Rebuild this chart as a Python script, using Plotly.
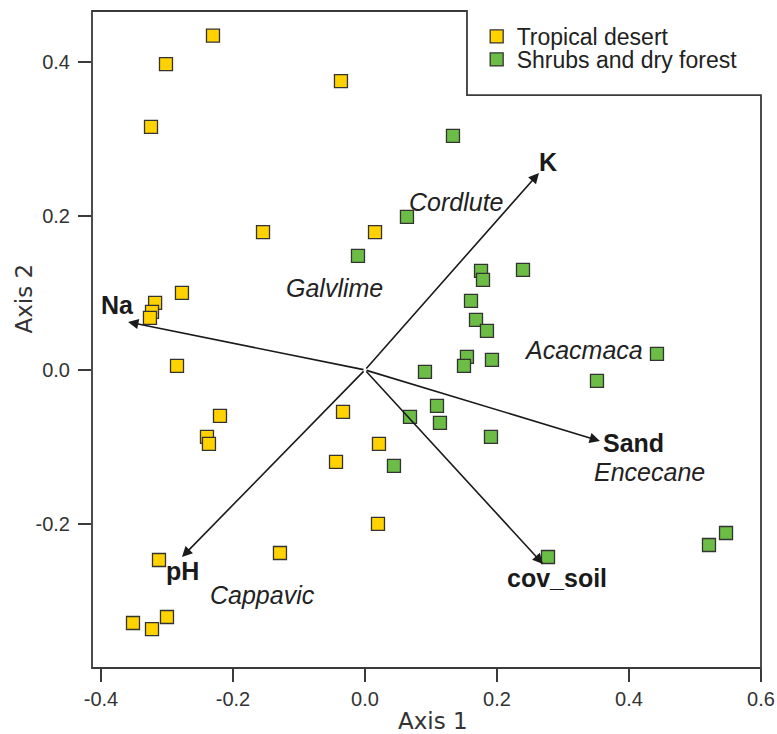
import plotly.graph_objects as go

# ---- data ----
desert_x = [-0.2303, -0.3015, -0.3242, -0.0364, -0.1545, 0.0152, -0.2773, -0.318, -0.3227, -0.3258,
            -0.2848, -0.2197, -0.2394, -0.2364, -0.3121, -0.1288, -0.3515, -0.3227, -0.300,
            -0.0333, 0.0212, -0.0439, 0.0197]
desert_y = [0.434, 0.397, 0.3156, 0.375, 0.179, 0.179, 0.100, 0.087, 0.0753, 0.0675,
            0.0052, -0.0597, -0.087, -0.096, -0.2468, -0.2377, -0.3286, -0.3364, -0.3208,
            -0.0545, -0.096, -0.1195, -0.200]

forest_x = [0.1333, 0.0636, -0.0106, 0.1758, 0.1788, 0.2394, 0.1606, 0.1682, 0.1848, 0.1545,
            0.150, 0.1924, 0.0909, 0.3515, 0.4424, 0.1091, 0.0682, 0.1136, 0.1909, 0.0439,
            0.2773, 0.5212, 0.547]
forest_y = [0.3039, 0.1987, 0.148, 0.1286, 0.1169, 0.1299, 0.0896, 0.0649, 0.0506, 0.0169,
            0.0052, 0.013, -0.0026, -0.0143, 0.0208, -0.0468, -0.061, -0.0688, -0.087, -0.1247,
            -0.2429, -0.2273, -0.2117]

vec_names = ["K", "Na", "Sand", "pH", "cov_soil"]
vec_x = [0.2636, -0.359, 0.356, -0.2773, 0.2697]
vec_y = [0.2558, 0.0623, -0.0922, -0.2429, -0.252]

species_names = ["Cordlute", "Galvlime", "Acacmaca", "Encecane", "Cappavic"]
species_x = [0.1394, -0.0455, 0.3318, 0.4318, -0.156]
species_y = [0.2182, 0.1065, 0.026, -0.1325, -0.2922]

x_ticks = [-0.4, -0.2, 0.0, 0.2, 0.4, 0.6]
y_ticks = [-0.2, 0.0, 0.2, 0.4]

# ---- styling ----
FONT = "Liberation Sans, Arial, sans-serif"
TITLE_FONT = "DejaVu Sans, sans-serif"
YELLOW = "#FFD200"
GREEN = "#6BBD45"
EDGE = "#333333"
label_shift = {"K": (9, 11), "Na": (-11, 17), "Sand": (34, -2), "pH": (1, -14), "cov_soil": (14, -14)}

fig = go.Figure()
fig.add_trace(go.Scatter(x=desert_x, y=desert_y, mode="markers", name="Tropical desert",
                         legend="legend",
                         marker=dict(symbol="square", size=13, color=YELLOW,
                                     line=dict(color=EDGE, width=1.3))))
fig.add_trace(go.Scatter(x=forest_x, y=forest_y, mode="markers", name="Shrubs and dry forest",
                         legend="legend2",
                         marker=dict(symbol="square", size=13, color=GREEN,
                                     line=dict(color=EDGE, width=1.3))))

annotations = []
for n, vx, vy in zip(vec_names, vec_x, vec_y):
    annotations.append(dict(x=vx, y=vy, ax=0, ay=0, xref="x", yref="y", axref="x", ayref="y",
                            text="", showarrow=True, arrowhead=2, arrowsize=1.3, arrowwidth=1.6,
                            arrowcolor="#1a1a1a", standoff=0))
    dx, dy = label_shift[n]
    annotations.append(dict(x=vx, y=vy, xref="x", yref="y", text="<b>%s</b>" % n, showarrow=False,
                            xshift=dx, yshift=dy, font=dict(family=FONT, size=25, color="#1a1a1a")))
for n, sx, sy in zip(species_names, species_x, species_y):
    annotations.append(dict(x=sx, y=sy, xref="x", yref="y", text="<i>%s</i>" % n, showarrow=False,
                            font=dict(family=FONT, size=25, color="#222222")))

annotations.append(dict(x=0.5, y=0, xref="paper", yref="paper", yshift=-53, xshift=6,
                        xanchor="center", yanchor="middle",
                        text="Axis 1", showarrow=False,
                        font=dict(family=TITLE_FONT, size=23, color="#333333")))
annotations.append(dict(x=0, y=0.5, xref="paper", yref="paper", xshift=-69, yshift=41,
                        xanchor="center", yanchor="middle",
                        text="Axis 2", textangle=-90, showarrow=False,
                        font=dict(family=TITLE_FONT, size=23, color="#333333")))

# frame with cutout for legend
lx, ly = 0.5605, 0.8721
frame_path = "M 0,1 L %f,1 L %f,%f L 1,%f L 1,0 L 0,0 Z" % (lx, lx, ly, ly)

leg_common = dict(xanchor="left", yanchor="top", bgcolor="rgba(0,0,0,0)",
                  font=dict(family=FONT, size=23, color="#222222"), itemsizing="trace")

fig.update_layout(
    width=777, height=734,
    margin=dict(l=92, r=16, t=11, b=66),
    plot_bgcolor="white", paper_bgcolor="white",
    font=dict(family=FONT, color="#333333"),
    showlegend=True,
    legend=dict(x=0.575, y=0.994, **leg_common),
    legend2=dict(x=0.575, y=0.959, **leg_common),
    annotations=annotations,
    shapes=[dict(type="path", path=frame_path, xref="paper", yref="paper",
                 line=dict(color="#3a3a3a", width=1.8), layer="above")],
    xaxis=dict(range=[-0.4136, 0.6], tickvals=x_ticks, ticktext=["%.1f" % v for v in x_ticks],
               ticks="outside", ticklen=13, tickwidth=1.6, tickcolor="#3a3a3a",
               showgrid=False, zeroline=False, showline=False, automargin=False,
               tickfont=dict(family=FONT, size=20, color="#333333")),
    yaxis=dict(range=[-0.387, 0.466], tickvals=y_ticks, ticktext=["%.1f" % v for v in y_ticks],
               ticks="outside", ticklen=13, tickwidth=1.6, tickcolor="#3a3a3a",
               showgrid=False, zeroline=False, showline=False, automargin=False,
               ticklabelstandoff=4,
               tickfont=dict(family=FONT, size=20, color="#333333")),
)

fig.write_html("out.html", config={"displayModeBar": False},
               post_script="document.body.style.margin='0px';document.body.style.overflow='hidden';")
